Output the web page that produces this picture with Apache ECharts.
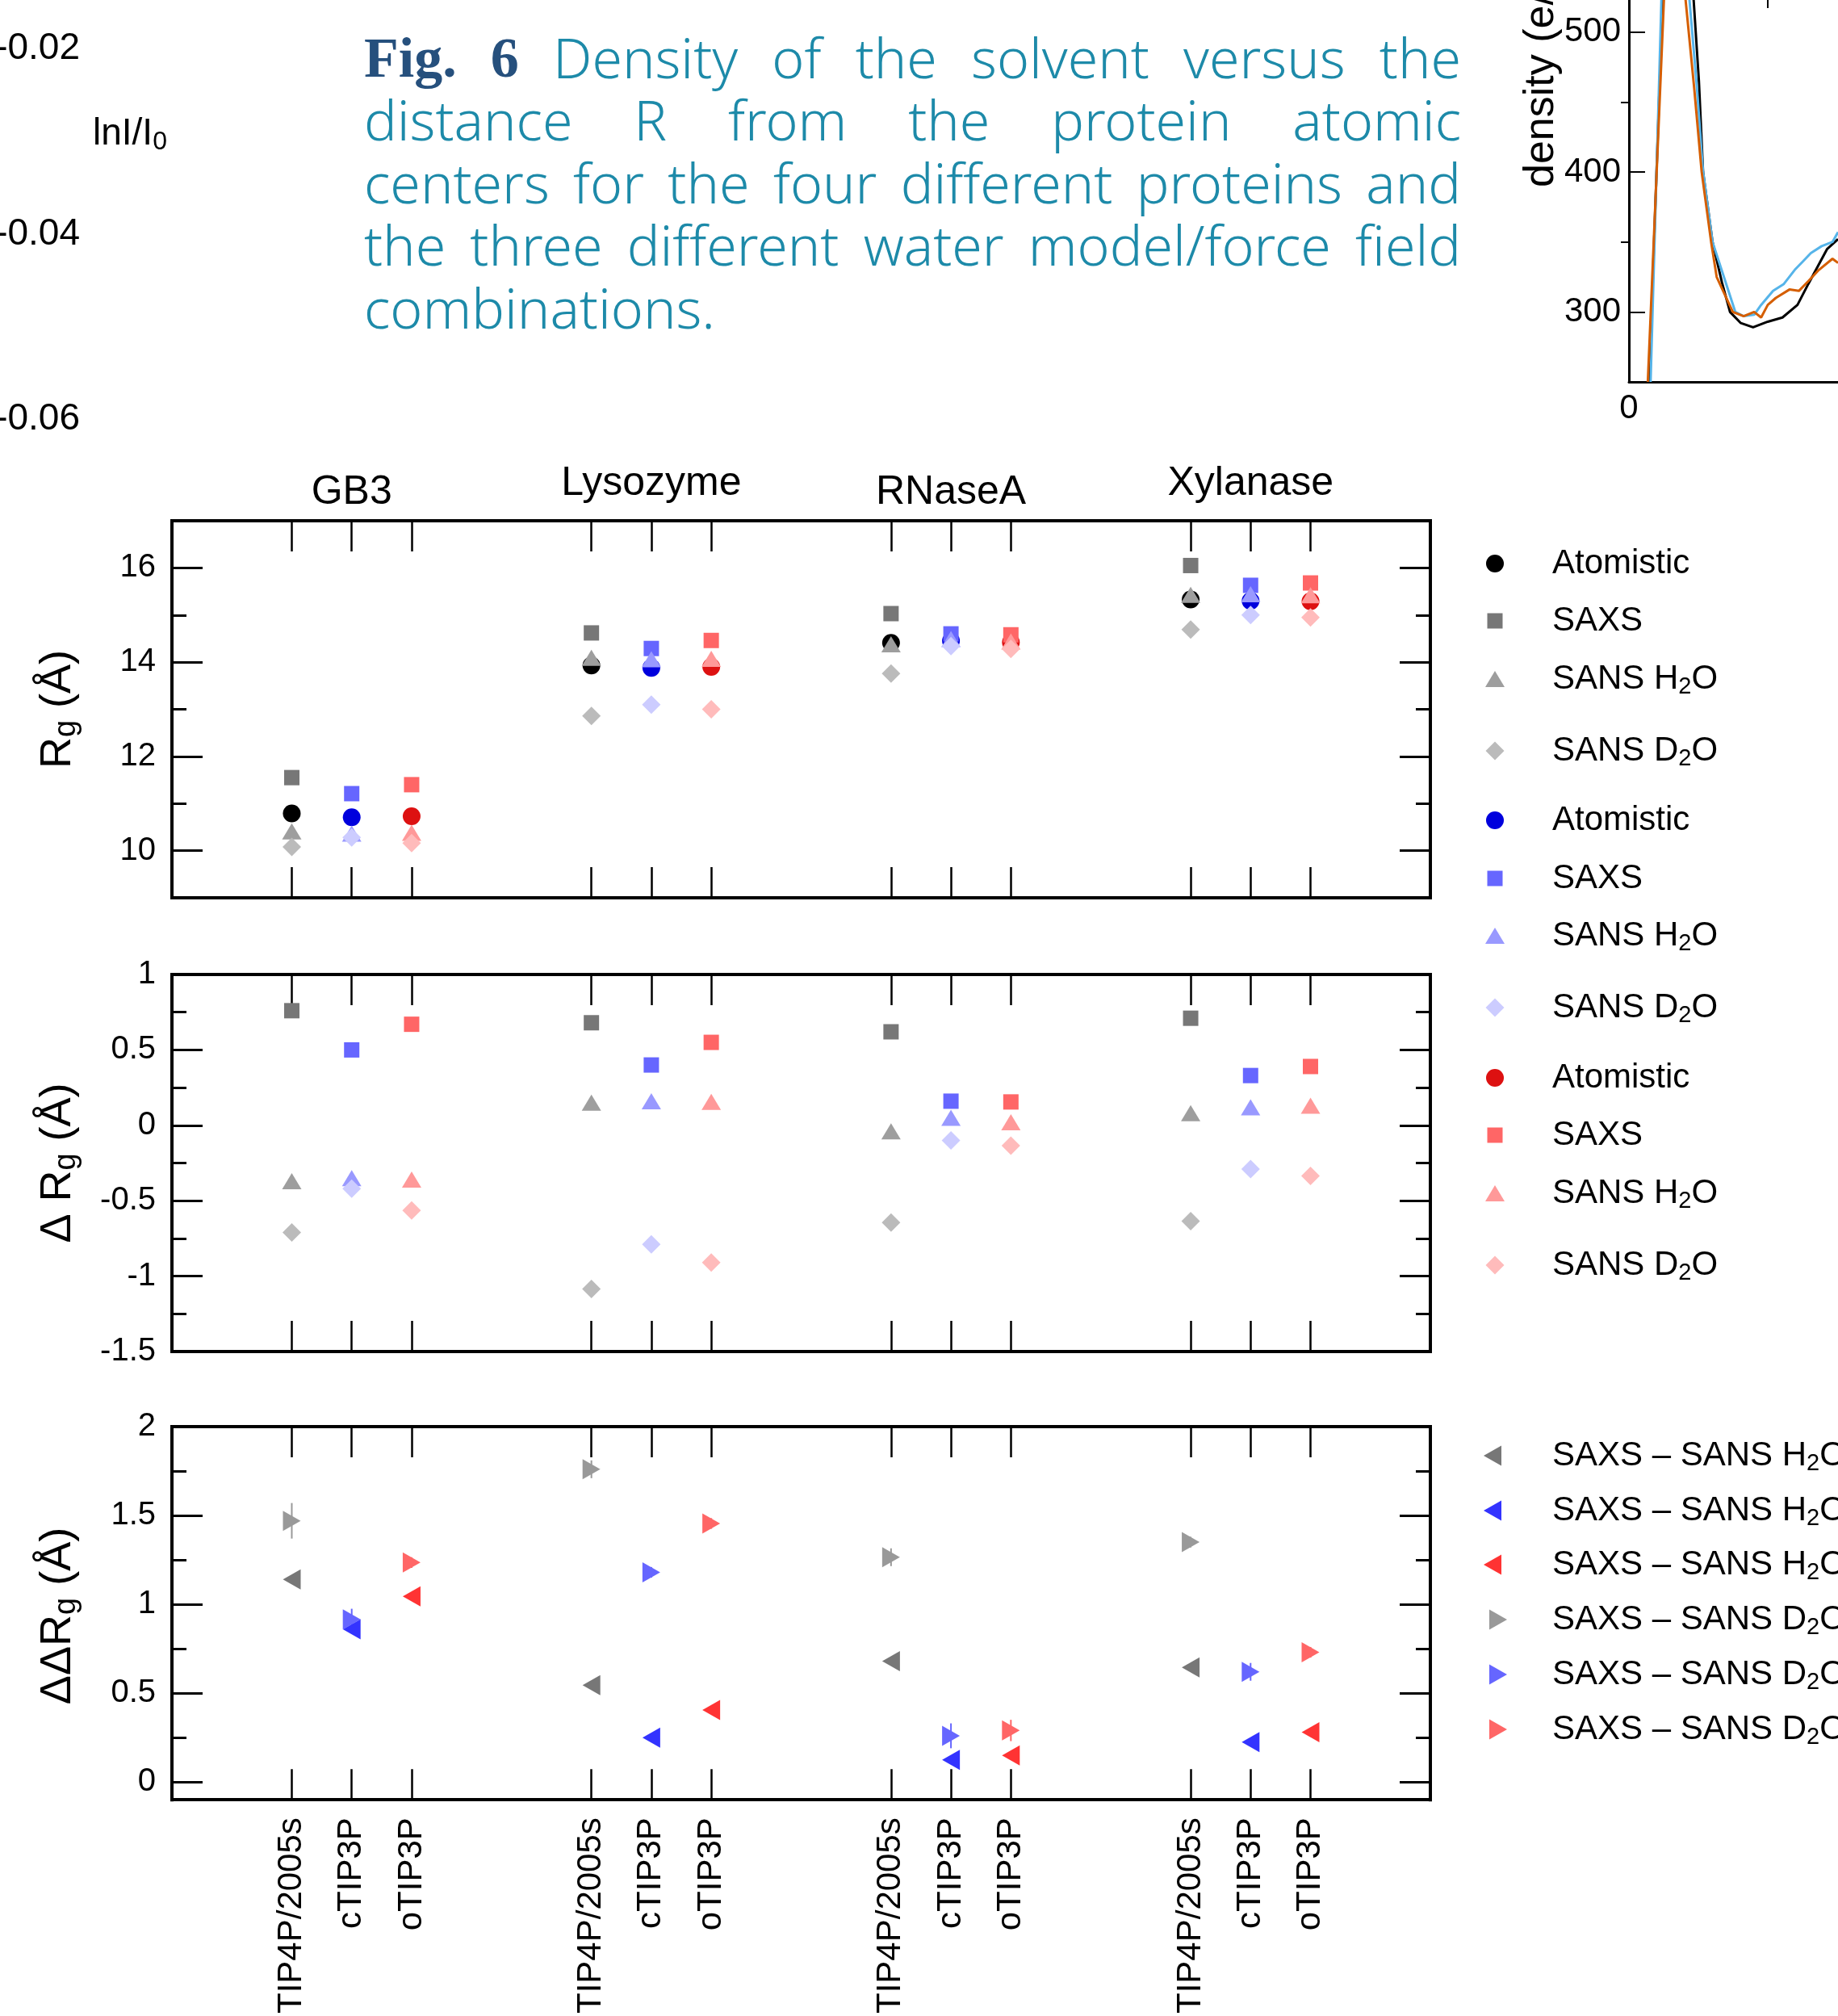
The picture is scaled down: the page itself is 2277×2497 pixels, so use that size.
<!DOCTYPE html>
<html>
<head>
<meta charset="utf-8">
<title>Rg of four proteins</title>
<script src="https://cdn.jsdelivr.net/npm/echarts@6.0.0/dist/echarts.min.js"></script>
<style>
  html, body { margin: 0; padding: 0; background: #fff; }
  #chart { width: 2277px; height: 2497px; }
</style>
</head>
<body>
<div id="chart"></div>
<script>
// groups on the x axis and the water models inside each group
const proteins = ['GB3', 'Lysozyme', 'RNaseA', 'Xylanase']
const waterModels = ['TIP4P/2005s', 'cTIP3P', 'oTIP3P']

// Rg (Å) - rows: water model, columns: protein
const rgAtomistic = [
  [10.79, 13.93, 14.41, 15.33],
  [10.71, 13.88, 14.45, 15.30],
  [10.73, 13.90, 14.42, 15.29]
]
const rgSaxs = [
  [11.55, 14.62, 15.03, 16.05],
  [11.21, 14.29, 14.60, 15.63],
  [11.40, 14.46, 14.58, 15.68]
]
const rgSansH2O = [
  [10.41, 14.09, 14.38, 15.43],
  [10.36, 14.06, 14.49, 15.44],
  [10.38, 14.07, 14.44, 15.42]
]
const rgSansD2O = [
  [10.08, 12.86, 13.76, 14.69],
  [10.28, 13.10, 14.34, 15.00],
  [10.16, 13.00, 14.28, 14.95]
]

// ΔRg (Å)
const dRgSaxs = [
  [0.76, 0.68, 0.62, 0.71],
  [0.50, 0.40, 0.16, 0.33],
  [0.67, 0.55, 0.155, 0.39]
]
const dRgSansH2O = [
  [-0.37, 0.15, -0.04, 0.08],
  [-0.35, 0.16, 0.05, 0.12],
  [-0.36, 0.155, 0.02, 0.13]
]
const dRgSansD2O = [
  [-0.71, -1.085, -0.645, -0.635],
  [-0.42, -0.79, -0.10, -0.29],
  [-0.565, -0.91, -0.135, -0.335]
]

// ΔΔRg (Å)
const ddRgH2O = [
  [1.14, 0.545, 0.68, 0.645],
  [0.86, 0.25, 0.125, 0.225],
  [1.045, 0.405, 0.15, 0.28]
]
const ddRgD2O = [
  [1.47, 1.76, 1.265, 1.35],
  [0.915, 1.18, 0.26, 0.62],
  [1.235, 1.455, 0.29, 0.73]
]
const ddRgD2OErr = [
  [0.1, 0.05, 0.05, 0.03],
  [0.06, 0.03, 0.07, 0.05],
  [0.03, 0.03, 0.06, 0.03]
]

// tick labels
const rgTicks = [10, 12, 14, 16]
const rgMinorTicks = [11, 13, 15]
const dRgTicks = [-1.5, -1, -0.5, 0, 0.5, 1]
const dRgMinorTicks = [-1.25, -0.75, -0.25, 0.25, 0.75]
const ddRgTicks = [0, 0.5, 1, 1.5, 2]
const ddRgMinorTicks = [0.25, 0.75, 1.25, 1.75]

// cut-off density plot in the top right corner: [R, density]
const densityBlack = [[0.73, 250], [1.21, 523], [1.7, 620], [2.33, 523], [2.52, 465], [2.67, 400], [3.01, 350],
  [3.35, 321], [3.64, 300], [4.03, 292], [4.47, 289], [5.0, 293], [5.53, 296], [6.07, 305], [6.46, 320],
  [7.14, 345], [7.53, 352]]
const densityOrange = [[0.68, 250], [1.26, 523], [1.65, 620], [2.04, 523], [2.35, 460], [2.62, 400], [2.96, 350],
  [3.16, 325], [3.74, 300], [4.13, 297], [4.51, 300], [4.76, 296], [5.0, 305], [5.29, 310], [5.78, 316],
  [6.12, 315], [6.46, 322], [6.84, 330], [7.33, 338], [7.53, 335]]
const densityBlue = [[0.78, 250], [1.17, 523], [1.7, 620], [2.18, 523], [2.45, 460], [2.67, 400], [3.01, 350],
  [3.83, 300], [4.13, 297], [4.51, 298], [4.76, 305], [5.19, 315], [5.58, 320], [5.97, 330], [6.26, 336],
  [6.55, 342], [6.94, 347], [7.33, 350], [7.53, 357]]
const densityYTicks = [300, 400, 500]
const densityYMinorTicks = [350, 450]
const densityXTicks = [0]
const densityXMinorTicks = [5]

const FONT = 'Liberation Sans'
const GROUP_STEP = 5
const xPos = (p, m) => p * GROUP_STEP + m
const tickPositions = proteins.flatMap((_, p) => waterModels.map((_, m) => xPos(p, m)))
const groupCenters = proteins.map((_, p) => xPos(p, 1))

const panels = [
  { top: 645, height: 467, min: 9, max: 17, major: rgTicks, minor: rgMinorTicks, title: '{a|R}{s|g}{a| (Å)}' },
  { top: 1207, height: 467, min: -1.5, max: 1, major: dRgTicks, minor: dRgMinorTicks, title: '{a|Δ R}{s|g}{a| (Å)}' },
  { top: 1767, height: 469, min: -0.1, max: 2, major: ddRgTicks, minor: ddRgMinorTicks, title: '{a|ΔΔR}{s|g}{a| (Å)}' }
]

const modelColors = {
  Atomistic: ['#000000', '#0000dd', '#dd1111'],
  SAXS: ['#777777', '#6666ff', '#ff6666'],
  'SANS H2O': ['#9e9e9e', '#9999ff', '#ff9999'],
  'SANS D2O': ['#bbbbbb', '#ccccff', '#ffbbbb'],
  'SAXS – SANS H2O': ['#777777', '#3333ff', '#ff3333'],
  'SAXS – SANS D2O': ['#999999', '#6666ff', '#ff6666']
}
const markers = {
  Atomistic: { symbol: 'circle', size: [22, 22], rotate: 0 },
  SAXS: { symbol: 'rect', size: [19, 19], rotate: 0 },
  'SANS H2O': { symbol: 'triangle', size: [24, 20], rotate: 0 },
  'SANS D2O': { symbol: 'diamond', size: [23, 23], rotate: 0 },
  'SAXS – SANS H2O': { symbol: 'triangle', size: [25, 22], rotate: 90, icon: 'path://M0,5L10,0L10,10Z', iconSize: [22, 25] },
  'SAXS – SANS D2O': { symbol: 'triangle', size: [25, 22], rotate: -90, icon: 'path://M10,5L0,0L0,10Z', iconSize: [22, 25] }
}
const legendLabels = {
  Atomistic: '{a|Atomistic}',
  SAXS: '{a|SAXS}',
  'SANS H2O': '{a|SANS H}{s|2}{a|O}',
  'SANS D2O': '{a|SANS D}{s|2}{a|O}',
  'SAXS – SANS H2O': '{a|SAXS – SANS H}{s|2}{a|O}',
  'SAXS – SANS D2O': '{a|SAXS – SANS D}{s|2}{a|O}'
}

// ---------- axes ----------
const xAxes = []
const yAxes = []
const grids = []
panels.forEach((p, i) => {
  grids.push({ left: 213, top: p.top, width: 1559, height: p.height })
  ;['bottom', 'top'].forEach(position => {
    const isBottom = position === 'bottom'
    xAxes.push({
      type: 'value', gridIndex: i, position, min: -2, max: 19,
      axisLine: { onZero: false, lineStyle: { color: '#000', width: 4, cap: 'square' } },
      axisTick: { inside: true, length: 38, customValues: tickPositions, lineStyle: { color: '#000', width: 2.5 } },
      axisLabel: isBottom
        ? {
            show: i === 2, customValues: tickPositions, rotate: 90, margin: 22,
            fontFamily: FONT, fontSize: 42, color: '#000',
            formatter: v => waterModels[Math.round(v) % GROUP_STEP]
          }
        : {
            show: i === 0, customValues: groupCenters, margin: 10, color: '#000',
            formatter: v => {
              const g = Math.round((v - 1) / GROUP_STEP)
              return (g % 2 ? '{hi|' : '{lo|') + proteins[g] + '}'
            },
            rich: {
              lo: { fontFamily: FONT, fontSize: 50, color: '#000' },
              hi: { fontFamily: FONT, fontSize: 50, color: '#000', padding: [0, 0, 11, 0] }
            }
          },
      splitLine: { show: false }
    })
  })
  ;[['left', false], ['left', true], ['right', false], ['right', true]].forEach(([position, minor]) => {
    yAxes.push({
      type: 'value', gridIndex: i, position, min: p.min, max: p.max,
      axisLine: { show: !minor, onZero: false, lineStyle: { color: '#000', width: 4, cap: 'square' } },
      axisTick: { inside: true, length: minor ? 18 : 38, customValues: minor ? p.minor : p.major, lineStyle: { color: '#000', width: 3 } },
      axisLabel: { show: position === 'left' && !minor, customValues: p.major, margin: 20, fontFamily: FONT, fontSize: 40, color: '#000' },
      splitLine: { show: false }
    })
  })
})

// density fragment, cut by the right and top edges of the picture
const DENS_PX_PER_R = 34.4
const DENS_PX_PER_UNIT = 1.7333
grids.push({ left: 2018, top: 0, width: 259, height: 473 })
xAxes.push({
  type: 'value', gridIndex: 3, min: 0, max: 259 / DENS_PX_PER_R,
  axisLine: { onZero: false, lineStyle: { color: '#000', width: 3 } },
  axisTick: { inside: true, length: 20, customValues: densityXTicks, lineStyle: { color: '#000', width: 2 } },
  axisLabel: { customValues: densityXTicks, margin: 12, fontFamily: FONT, fontSize: 42, color: '#000' },
  splitLine: { show: false }
})
xAxes.push({
  type: 'value', gridIndex: 3, min: 0, max: 259 / DENS_PX_PER_R,
  axisLine: { show: false },
  axisTick: { inside: true, length: 10, customValues: densityXMinorTicks, lineStyle: { color: '#000', width: 2 } },
  axisLabel: { show: false },
  splitLine: { show: false }
})
yAxes.push({
  type: 'value', gridIndex: 3, min: 250, max: 250 + 473 / DENS_PX_PER_UNIT,
  axisLine: { onZero: false, lineStyle: { color: '#000', width: 3 } },
  axisTick: { inside: true, length: 20, customValues: densityYTicks, lineStyle: { color: '#000', width: 2 } },
  axisLabel: { customValues: densityYTicks, margin: 10, fontFamily: FONT, fontSize: 42, color: '#000' },
  splitLine: { show: false }
})
yAxes.push({
  type: 'value', gridIndex: 3, min: 250, max: 250 + 473 / DENS_PX_PER_UNIT,
  axisLine: { show: false },
  axisTick: { inside: true, length: 10, customValues: densityYMinorTicks, lineStyle: { color: '#000', width: 2 } },
  axisLabel: { show: false },
  splitLine: { show: false }
})

// ---------- series ----------
const series = []
const scatter = (panel, kind, m, values) => {
  const mk = markers[kind]
  series.push({
    type: 'scatter',
    name: kind + '|' + waterModels[m],
    xAxisIndex: panel * 2,
    yAxisIndex: panel * 4,
    symbol: mk.symbol,
    symbolSize: mk.size,
    symbolRotate: mk.rotate,
    itemStyle: { color: modelColors[kind][m], opacity: 1 },
    silent: true,
    data: proteins.map((_, p) => [xPos(p, m), values[m][p]])
  })
}
waterModels.forEach((_, m) => {
  scatter(0, 'Atomistic', m, rgAtomistic)
  scatter(0, 'SAXS', m, rgSaxs)
  scatter(0, 'SANS H2O', m, rgSansH2O)
  scatter(0, 'SANS D2O', m, rgSansD2O)
})
waterModels.forEach((_, m) => {
  scatter(1, 'SAXS', m, dRgSaxs)
  scatter(1, 'SANS H2O', m, dRgSansH2O)
  scatter(1, 'SANS D2O', m, dRgSansD2O)
})
waterModels.forEach((_, m) => {
  series.push({
    type: 'custom',
    xAxisIndex: 4,
    yAxisIndex: 8,
    silent: true,
    encode: { x: 0, y: 1 },
    data: proteins.map((_, p) => [xPos(p, m), ddRgD2O[m][p], ddRgD2OErr[m][p]]),
    renderItem: (params, api) => {
      const x = api.value(0), y = api.value(1), e = api.value(2)
      const a = api.coord([x, y - e])
      const b = api.coord([x, y + e])
      return {
        type: 'line',
        shape: { x1: a[0], y1: a[1], x2: b[0], y2: b[1] },
        style: { stroke: modelColors['SAXS – SANS D2O'][m], lineWidth: 2 }
      }
    }
  })
})
waterModels.forEach((_, m) => scatter(2, 'SAXS – SANS H2O', m, ddRgH2O))
waterModels.forEach((_, m) => scatter(2, 'SAXS – SANS D2O', m, ddRgD2O))

;[[densityBlack, '#000000'], [densityBlue, '#56b4e9'], [densityOrange, '#d55e00']].forEach(([d, c]) => {
  series.push({
    type: 'line', xAxisIndex: 6, yAxisIndex: 12, data: d, showSymbol: false, symbol: 'none',
    lineStyle: { color: c, width: 3 }, silent: true, clip: true
  })
})

// ---------- legends ----------
const LEGEND_TEXT_X = 1923
const legends = []
const addLegend = (kind, m, cx, cy) => {
  const mk = markers[kind]
  const [w, h] = mk.iconSize || mk.size
  const left = cx - w / 2
  const spacer = LEGEND_TEXT_X - (left + w + 5)
  const name = kind + '|' + waterModels[m]
  legends.push({
    data: [mk.icon ? { name, icon: mk.icon } : name],
    left, top: cy - 24, padding: 0, orient: 'horizontal',
    itemWidth: w, itemHeight: h, symbolKeepAspect: false,
    symbolRotate: mk.icon ? 0 : mk.rotate,
    selectedMode: false,
    formatter: () => '{sp| }' + legendLabels[kind],
    textStyle: {
      fontFamily: FONT, fontSize: 42, color: '#000',
      rich: {
        sp: { width: spacer, lineHeight: 48, fontSize: 42 },
        a: { fontFamily: FONT, fontSize: 42, lineHeight: 48, color: '#000' },
        s: { fontFamily: FONT, fontSize: 29, lineHeight: 2, verticalAlign: 'bottom', color: '#000' }
      }
    }
  })
}
const topLegendY = [701, 772, 844, 933, 1019, 1091, 1162, 1251, 1338, 1409, 1481, 1570]
const topKinds = ['Atomistic', 'SAXS', 'SANS H2O', 'SANS D2O']
waterModels.forEach((_, m) => topKinds.forEach((k, j) => addLegend(k, m, 1852, topLegendY[m * 4 + j])))
const bottomLegendY = [1806, 1874, 1941, 2009, 2077, 2145]
waterModels.forEach((_, m) => addLegend('SAXS – SANS H2O', m, 1849, bottomLegendY[m]))
waterModels.forEach((_, m) => addLegend('SAXS – SANS D2O', m, 1856, bottomLegendY[3 + m]))

// ---------- texts ----------
const graphics = []
const titleRich = {
  a: { fontFamily: FONT, fontSize: 54, lineHeight: 60, fill: '#000' },
  s: { fontFamily: FONT, fontSize: 38, lineHeight: 10, verticalAlign: 'bottom', fill: '#000' }
}
panels.forEach(p => {
  graphics.push({
    type: 'text', x: 72, y: p.top + p.height / 2, rotation: Math.PI / 2, silent: true,
    style: { text: p.title, rich: titleRich, align: 'center', verticalAlign: 'middle' }
  })
})

// pieces of neighbouring figures that the crop catches
;[['-0.02', 60], ['-0.04', 290], ['-0.06', 519]].forEach(([t, y]) => {
  graphics.push({
    type: 'text', x: 99, y, silent: true,
    style: { text: t, fontFamily: FONT, fontSize: 46, fill: '#000', align: 'right', verticalAlign: 'middle' }
  })
})
graphics.push({
  type: 'text', x: 115, y: 166, silent: true,
  style: {
    text: '{a|lnI/I}{s|0}', align: 'left', verticalAlign: 'middle',
    rich: {
      a: { fontFamily: FONT, fontSize: 46, lineHeight: 52, fill: '#000' },
      s: { fontFamily: FONT, fontSize: 32, lineHeight: 2, verticalAlign: 'bottom', fill: '#000' }
    }
  }
})
graphics.push({
  type: 'text', x: 1910, y: 232, rotation: Math.PI / 2, silent: true,
  style: { text: 'density (e/nm³)', fontFamily: FONT, fontSize: 52, fill: '#000', align: 'left', verticalAlign: 'middle' }
})

// justified caption
const captionLines = [
  ['Fig.', '6', 'Density', 'of', 'the', 'solvent', 'versus', 'the'],
  ['distance', 'R', 'from', 'the', 'protein', 'atomic'],
  ['centers', 'for', 'the', 'four', 'different', 'proteins', 'and'],
  ['the', 'three', 'different', 'water', 'model/force', 'field'],
  ['combinations.']
]
const CAP_LEFT = 451, CAP_RIGHT = 1810
const capBaselines = [99, 176.5, 254, 331.5, 409]
const figStyle = { fontFamily: 'Liberation Serif', fontWeight: 'bold', fontSize: 70, fill: '#26507d' }
const bodyStyle = { fontFamily: 'Noto Sans', fontWeight: 300, fontSize: 68, fill: '#1d8aa9' }
const ctx = document.createElement('canvas').getContext('2d')
const measure = (t, s) => {
  ctx.font = `${s.fontWeight} ${s.fontSize}px "${s.fontFamily}"`
  return ctx.measureText(t).width
}
captionLines.forEach((words, li) => {
  const styles = words.map((_, wi) => (li === 0 && wi < 2 ? figStyle : bodyStyle))
  const widths = words.map((w, wi) => measure(w, styles[wi]))
  const total = widths.reduce((a, b) => a + b, 0)
  const last = li === captionLines.length - 1
  const gap = last ? measure(' ', bodyStyle) : (CAP_RIGHT - CAP_LEFT - total) / (words.length - 1)
  let x = CAP_LEFT
  words.forEach((w, wi) => {
    const s = styles[wi]
    graphics.push({
      type: 'text', x, y: capBaselines[li] - 0.32 * bodyStyle.fontSize, silent: true,
      style: Object.assign({ text: w, align: 'left', verticalAlign: 'middle' }, s)
    })
    x += widths[wi] + gap
  })
})

const chart = echarts.init(document.getElementById('chart'))
const option = {
  animation: false,
  backgroundColor: '#ffffff',
  grid: grids,
  xAxis: xAxes,
  yAxis: yAxes,
  legend: legends,
  series,
  graphic: graphics
}
chart.setOption(option)
</script>
</body>
</html>
